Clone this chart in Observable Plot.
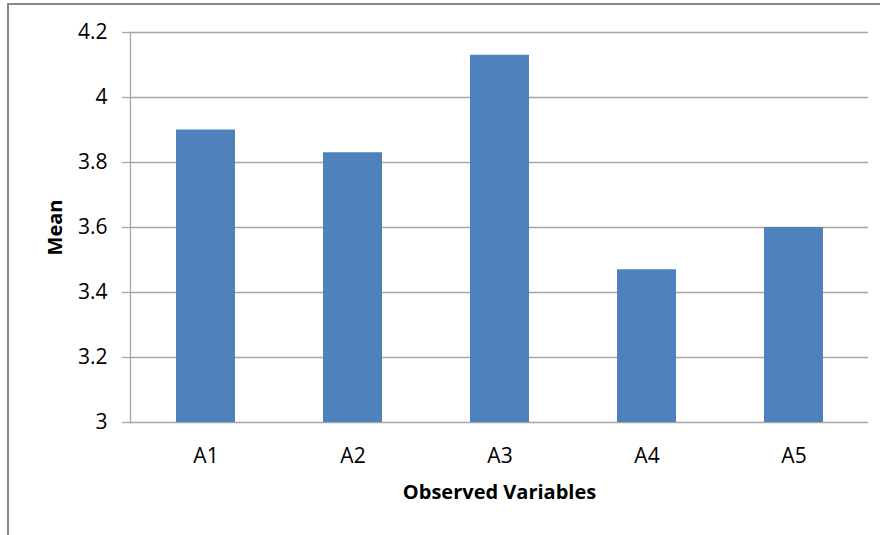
<!DOCTYPE html>
<html>
<head>
<meta charset="utf-8">
<script src="https://cdn.jsdelivr.net/npm/d3@7"></script>
<script src="https://cdn.jsdelivr.net/npm/@observablehq/plot@0.6"></script>
<style>
  html, body { margin: 0; padding: 0; background: #fff; overflow: hidden; }
  #wrap { position: relative; width: 880px; height: 535px; overflow: hidden; }
  #border { position: absolute; left: 7px; top: 3px; width: 900px; height: 600px; border: 2px solid #878787; box-sizing: border-box; }
  #chart { position: absolute; left: 0; top: 0; }
</style>
</head>
<body>
<div id="wrap">
  <div id="border"></div>
  <div id="chart"></div>
</div>
<script>
const categories = ["A1", "A2", "A3", "A4", "A5"];
const means = [3.9, 3.83, 4.13, 3.47, 3.6];
const yTicks = [3, 3.2, 3.4, 3.6, 3.8, 4, 4.2];
const xTitle = "Observed Variables";
const yTitle = "Mean";

const data = categories.map((c, i) => ({ cat: c, mean: means[i] }));
const font = "'Open Sans', sans-serif";

const chart = Plot.plot({
  width: 880,
  height: 535,
  marginLeft: 130,
  marginRight: 12,
  marginTop: 32,
  marginBottom: 113,
  style: { fontFamily: font, fontSize: "21px", color: "#000", background: "transparent" },
  x: { domain: categories, paddingInner: 0.6, paddingOuter: 0.3, label: null },
  y: { domain: [3, 4.2], label: null, ticks: yTicks },
  marks: [
    Plot.gridY(yTicks, { stroke: "#a6a6a6", strokeOpacity: 1, strokeWidth: 1.3 }),
    Plot.axisY(yTicks, {
      tickSize: 8, tickPadding: 15, stroke: "#a6a6a6", strokeWidth: 1.3,
      tickFormat: d => String(d), fontSize: 21, fill: "#000", label: null
    }),
    Plot.frame({ anchor: "left", stroke: "#a6a6a6", strokeWidth: 1.3 }),
    Plot.barY(data, { x: "cat", y1: 3, y2: "mean", fill: "#4f81bd" }),
    Plot.axisX({ tickSize: 0, tickPadding: 26, fontSize: 21, fill: "#000", label: null }),
    Plot.text([xTitle], { frameAnchor: "bottom", dy: 76, fontWeight: "bold", fontSize: 20, fill: "#000" }),
    Plot.text([yTitle], { frameAnchor: "left", textAnchor: "middle", dx: -75, rotate: -90, fontWeight: "bold", fontSize: 20, fill: "#000" })
  ]
});
document.getElementById("chart").appendChild(chart);
</script>
</body>
</html>
